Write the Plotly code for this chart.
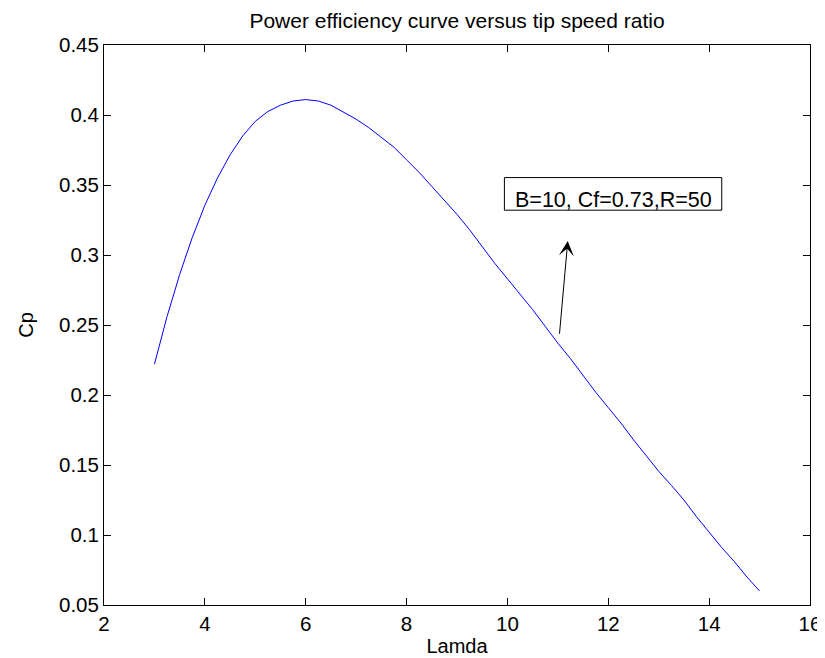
import plotly.graph_objects as go

# Data
lamda = [3.00, 3.25, 3.50, 3.75, 4.00, 4.25, 4.50, 4.75, 5.00, 5.25, 5.50, 5.75,
         6.00, 6.25, 6.50, 6.75, 7.00, 7.25, 7.50, 7.75, 8.00, 8.25, 8.50, 8.75,
         9.00, 9.25, 9.50, 9.75, 10.00, 10.25, 10.50, 10.75, 11.00, 11.25, 11.50,
         11.75, 12.00, 12.25, 12.50, 12.75, 13.00, 13.25, 13.50, 13.75, 14.00,
         14.25, 14.50, 14.75, 15.00]
cp = [0.222, 0.256, 0.286, 0.3125, 0.3355, 0.355, 0.3715, 0.385, 0.3955, 0.4025, 0.407, 0.410,
      0.411, 0.410, 0.407, 0.402, 0.397, 0.391, 0.384, 0.377, 0.368, 0.359, 0.349, 0.339,
      0.329, 0.318, 0.306, 0.294, 0.283, 0.272, 0.261, 0.249, 0.237, 0.226, 0.214,
      0.202, 0.191, 0.180, 0.168, 0.157, 0.1455, 0.1355, 0.125, 0.113, 0.102,
      0.091, 0.081, 0.070, 0.060]

x_ticks = [2, 4, 6, 8, 10, 12, 14, 16]
x_ticktext = ["2", "4", "6", "8", "10", "12", "14", "16"]
y_ticks = [0.05, 0.1, 0.15, 0.2, 0.25, 0.3, 0.35, 0.4, 0.45]
y_ticktext = ["0.05", "0.1", "0.15", "0.2", "0.25", "0.3", "0.35", "0.4", "0.45"]

title_text = "Power efficiency curve versus tip speed ratio"
x_label = "Lamda"
y_label = "Cp"
note_text = "B=10, Cf=0.73,R=50"

FONT = "Liberation Sans, Arial, sans-serif"

fig = go.Figure()
fig.add_trace(go.Scatter(x=lamda, y=cp, mode="lines",
                         line=dict(color="#0000ff", width=1),
                         showlegend=False, hoverinfo="skip"))

axis_common = dict(showline=True, linecolor="black", linewidth=1, mirror="ticks",
                   ticks="inside", ticklen=7, tickwidth=1, tickcolor="black",
                   showgrid=False, zeroline=False,
                   tickfont=dict(family=FONT, size=20.5, color="black"))

fig.update_xaxes(range=[2, 16], tickmode="array", tickvals=x_ticks, ticktext=x_ticktext,
                 title=dict(text=x_label, font=dict(family=FONT, size=20, color="black"),
                            standoff=5),
                 **axis_common)
fig.update_yaxes(range=[0.05, 0.45], tickmode="array", tickvals=y_ticks, ticktext=y_ticktext,
                 title=dict(text=y_label, font=dict(family=FONT, size=20, color="black"),
                            standoff=19),
                 **axis_common)

# Text box
fig.add_shape(type="rect", xref="x", yref="y", x0=9.94, x1=14.25, y0=0.332, y1=0.3553,
              line=dict(color="black", width=1), fillcolor="rgba(0,0,0,0)")
fig.add_annotation(x=12.1, y=0.3395, xref="x", yref="y", text=note_text, showarrow=False,
                   font=dict(family=FONT, size=21.5, color="black"),
                   xanchor="center", yanchor="middle")

# Arrow
fig.add_annotation(x=11.196, y=0.310, ax=11.03, ay=0.2427, xref="x", yref="y",
                   axref="x", ayref="y", text="", showarrow=True,
                   arrowhead=3, arrowsize=2.5, arrowwidth=1, arrowcolor="black")

fig.update_layout(
    width=825, height=658,
    margin=dict(l=96, r=15, t=37, b=59),
    paper_bgcolor="white", plot_bgcolor="white",
    title=dict(text=title_text, font=dict(family=FONT, size=21, color="black"),
               x=0.5, xanchor="center", xref="paper", y=1 - 13 / 658, yref="container",
               yanchor="middle"),
)

fig.write_html("out.html")
